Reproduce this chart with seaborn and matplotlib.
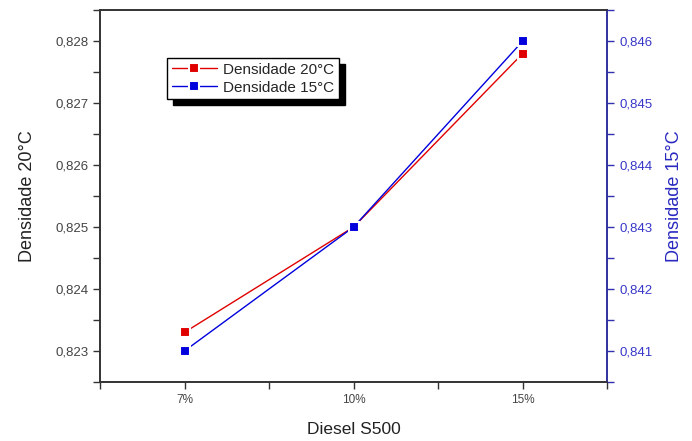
import matplotlib
matplotlib.use("Agg")
import matplotlib.pyplot as plt
from matplotlib.ticker import FuncFormatter, MultipleLocator
import pandas as pd
import seaborn as sns

categorias = ["7%", "10%", "15%"]
dens_20 = [0.8233, 0.8250, 0.8278]
dens_15 = [0.8410, 0.8430, 0.8460]

df = pd.DataFrame({"pos": range(len(categorias)), "Diesel": categorias,
                   "d20": dens_20, "d15": dens_15})

sns.set_style("ticks")
plt.rcParams['font.family'] = ['Liberation Sans', 'DejaVu Sans']

fig = plt.figure(figsize=(6.92, 4.41), dpi=100)
ax = fig.add_axes([0.1445, 0.134, 0.733, 0.843])
ax2 = ax.twinx()

red = "#e00000"
blue = "#0000dd"
axblue = "#3030b0"

# white marker edge gives the small gap between line and marker
sns.lineplot(data=df, x="pos", y="d20", ax=ax, color=red, linewidth=1,
             marker="s", markersize=7, markeredgewidth=1.5, markeredgecolor="white",
             label="Densidade 20°C", legend=False)
sns.lineplot(data=df, x="pos", y="d15", ax=ax2, color=blue, linewidth=1,
             marker="s", markersize=7, markeredgewidth=1.5, markeredgecolor="white",
             label="Densidade 15°C", legend=False)

comma = FuncFormatter(lambda v, p: f"{v:.3f}".replace(".", ","))

ax.set_xlim(-0.5, 2.5)
ax.set_xticks(range(len(categorias)))
ax.set_xticklabels(categorias)
ax.xaxis.set_minor_locator(MultipleLocator(0.5))
ax.set_ylim(0.8225, 0.8285)
ax.yaxis.set_major_locator(MultipleLocator(0.001))
ax.yaxis.set_minor_locator(MultipleLocator(0.0005))
ax.yaxis.set_major_formatter(comma)
ax2.set_ylim(0.8405, 0.8465)
ax2.yaxis.set_major_locator(MultipleLocator(0.001))
ax2.yaxis.set_minor_locator(MultipleLocator(0.0005))
ax2.yaxis.set_major_formatter(comma)

for a in (ax, ax2):
    for s in a.spines.values():
        s.set_visible(True)
        s.set_linewidth(1.2)
        s.set_color("#333333")
ax2.spines["right"].set_color(axblue)

ax.tick_params(axis="both", which="both", direction="out", length=5, width=1,
               labelsize=8.5, colors="#333333", labelcolor="#444444")
ax.tick_params(axis="y", labelsize=9.5)
ax.tick_params(axis="x", which="both", top=False)
# top spine: inward ticks at the categories only
ax2.tick_params(axis="x", which="major", top=True, bottom=False, direction="in",
                length=5, width=1, color="#333333", labeltop=False, labelbottom=False)
ax2.tick_params(axis="x", which="minor", top=False, bottom=False)
ax2.tick_params(axis="y", which="both", direction="out", length=5, width=1,
                labelsize=9.5, colors=axblue, labelcolor="#3838c8")

ax.set_xlabel("Diesel S500", fontsize=12.5, color="#222222", labelpad=12)
ax.set_ylabel("Densidade 20°C", fontsize=13, color="#222222", labelpad=14)
ax2.set_ylabel("Densidade 15°C", fontsize=13, color="#2828c0", labelpad=10)

h1, l1 = ax.get_legend_handles_labels()
h2, l2 = ax2.get_legend_handles_labels()
leg = ax2.legend(h1 + h2, l1 + l2, loc="upper left", bbox_to_anchor=(0.132, 0.871),
                 fancybox=False, shadow={"color": "black", "alpha": 1, "ox": 4, "oy": -4},
                 edgecolor="black", framealpha=1, fontsize=11,
                 handlelength=3, borderpad=0.3, labelspacing=0.25,
                 handletextpad=0.4, borderaxespad=0)
leg.get_frame().set_linewidth(1)

fig.savefig("out.png", dpi=100)
